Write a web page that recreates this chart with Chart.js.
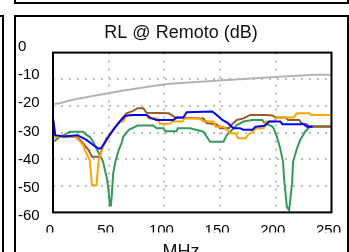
<!DOCTYPE html>
<html>
<head>
<meta charset="utf-8">
<script src="https://cdn.jsdelivr.net/npm/chart.js@4/dist/chart.umd.min.js"></script>
<style>
  html, body { margin: 0; padding: 0; width: 349px; height: 252px; overflow: hidden; background: #fff; }
  .frame { position: absolute; border: 2px solid #000; box-sizing: border-box; }
  #wrap { position: absolute; left: 16px; top: 17px; width: 328px; height: 246px; }
</style>
</head>
<body>
<!-- neighbouring panels of the dashboard -->
<div class="frame" style="left:-100px; top:15px; width:104px; height:300px;"></div>
<div class="frame" style="left:14px; top:-100px; width:335px; height:104px;"></div>
<div class="frame" style="left:14px; top:15px; width:335px; height:300px;"></div>
<div id="wrap"><canvas id="rlChart"></canvas></div>

<script>
// Valores (MHz / dB)
const freqTicks = [0, 50, 100, 150, 200, 250];
const dbTicks = [0, -10, -20, -30, -40, -50, -60];

// límite (gris)
const limitX = [1, 6, 15, 25, 38, 51, 62, 78, 94, 105, 122, 153, 195, 235, 250];
const limitY = [-19.3, -19, -18, -17.1, -16.1, -15.2, -14.3, -13.3, -12.3, -11.7, -11.2, -10.4, -9.3, -8.3, -8.3];

// par azul
const blueX = [0, 2, 10, 22, 30, 36, 41, 43, 48, 54, 60, 65, 72, 84, 87, 93, 108, 111, 117, 120, 143, 147, 152, 157, 162, 168, 171, 179, 182, 190, 194, 204, 206, 225, 228, 233];
const blueY = [-24.5, -31, -31.5, -31, -32.8, -34.7, -36, -36, -32.8, -29, -25.9, -23.7, -23.4, -23.4, -24.4, -25.3, -25.3, -24.4, -24.4, -22.4, -22.1, -23.4, -25.3, -26.5, -28.4, -28.4, -29, -29, -27.8, -27.5, -25.9, -25.9, -26.9, -26.9, -27.8, -27.8];

// par naranja
const orangeX = [0, 2, 20, 23, 27, 30, 33, 35, 39, 41, 44, 48, 53, 57, 60, 63, 66, 69, 84, 86, 94, 96, 105, 107, 116, 118, 132, 135, 144, 146, 153, 156, 159, 164, 166, 173, 175, 179, 183, 189, 191, 198, 201, 216, 219, 230, 232, 250];
const orangeY = [-26, -31.6, -31.6, -32.8, -34.7, -37.9, -40.4, -49.8, -49.8, -40.4, -36.5, -32.5, -29.7, -27.2, -25.9, -25.9, -23.6, -23.4, -23.4, -24.7, -24.7, -26.7, -26.7, -25.9, -25.9, -24.7, -24.7, -25.9, -25.9, -27.8, -27.8, -29, -30.3, -30.3, -32.2, -32.2, -30.9, -29.7, -28.4, -28.4, -25.9, -25.9, -24.4, -24.4, -22.8, -22.8, -23.4, -23.4];

// par marrón
const brownX = [0, 2, 20, 23, 27, 32, 35, 42, 44, 48, 53, 57, 62, 66, 72, 76, 81, 84, 104, 110, 135, 138, 147, 150, 158, 160, 165, 171, 177, 191, 197, 200, 209, 211, 221, 223, 228, 230, 250];
const brownY = [-25.3, -31.6, -31.6, -32.2, -34.1, -36.6, -39.1, -39.1, -36, -32.2, -29.7, -27.2, -24.7, -22.8, -21.9, -20.9, -20.9, -22.6, -22.8, -24.4, -24.7, -26.5, -27, -28.4, -28.4, -27.2, -25.3, -24.7, -23.4, -23.4, -23.6, -24.4, -24.4, -25.3, -25.3, -26.5, -27, -27.8, -27.8];

// par verde
const greenX = [0, 5, 12, 15, 27, 30, 33, 36, 39, 42, 45, 47, 48.5, 50, 51, 52, 53, 54, 56, 59, 62, 63, 68, 74, 76, 90, 93, 99, 101, 111, 112, 123, 135, 141, 153, 156, 159, 165, 171, 179, 188, 190, 197, 198, 201, 204, 206.5, 207.7, 210, 212, 214.7, 215.5, 219, 222, 226.6, 231, 250];
const greenY = [-33.5, -32, -30.5, -29.7, -29.7, -30.9, -31.6, -33.5, -36, -38.5, -41, -44.8, -47.3, -52.3, -57.4, -57.4, -52.3, -45.4, -41, -36.6, -33.5, -31.6, -29, -27.8, -27.4, -27.4, -28.4, -28.4, -29.5, -29.5, -28.4, -28.4, -29.7, -33.5, -33.5, -31, -29.7, -27.2, -25.9, -25.3, -25.3, -26.5, -27.8, -28.4, -31.6, -36, -41, -48.6, -58, -59.2, -48.6, -41, -36, -32.7, -29.5, -27.7, -27.7];

const toPoints = (xs, ys) => xs.map((x, i) => ({ x: x, y: ys[i] }));

const FONT = "'Liberation Sans', Arial, sans-serif";
const GRID_COLOR = '#bdbdbd';

// marco negro del área de trazado
const plotFrame = {
    id: 'plotFrame',
    afterDatasetsDraw(chart) {
        const { ctx, chartArea: a } = chart;
        ctx.save();
        ctx.strokeStyle = '#000';
        ctx.lineWidth = 2;
        ctx.strokeRect(a.left, a.top, a.right - a.left, a.bottom - a.top);
        ctx.restore();
    }
};

function lineSet(label, xs, ys, color) {
    return {
        label: label,
        data: toPoints(xs, ys),
        borderColor: color,
        borderWidth: 2,
        pointRadius: 0,
        tension: 0,
        fill: false
    };
}

new Chart(document.getElementById('rlChart'), {
    type: 'line',
    data: {
        datasets: [
            lineSet('Límite', limitX, limitY, '#b4b4b4'),
            lineSet('Par 1', blueX, blueY, '#0000ff'),
            lineSet('Par 2', orangeX, orangeY, '#ffa500'),
            lineSet('Par 3', brownX, brownY, '#9a5a28'),
            lineSet('Par 4', greenX, greenY, '#33995c')
        ]
    },
    options: {
        responsive: true,
        maintainAspectRatio: false,
        animation: false,
        layout: { padding: { left: 2, right: 0, top: 0, bottom: 0 } },
        plugins: {
            legend: { display: false },
            tooltip: { enabled: false },
            title: {
                display: true,
                text: 'RL @ Remoto (dB)',
                color: '#111',
                font: { family: FONT, size: 18, weight: 'normal' },
                padding: { top: 5, bottom: 9 }
            },
            subtitle: {
                display: true,
                position: 'bottom',
                text: 'MHz',
                color: '#111',
                font: { family: FONT, size: 18, weight: 'normal' },
                padding: { top: 9, bottom: 0 }
            }
        },
        scales: {
            x: {
                type: 'linear',
                min: 0,
                max: 250,
                afterBuildTicks: s => { s.ticks = freqTicks.map(v => ({ value: v })); },
                afterFit: s => { s.height = 20; },
                ticks: {
                    color: '#000',
                    font: { family: FONT, size: 15 },
                    padding: 0,
                    labelOffset: -3,
                    maxRotation: 0,
                    autoSkip: false
                },
                grid: {
                    color: c => (c.tick && (c.tick.value === 0 || c.tick.value === 250)) ? 'rgba(0,0,0,0)' : GRID_COLOR,
                    lineWidth: 2,
                    drawTicks: true,
                    tickLength: 9,
                    tickColor: 'rgba(0,0,0,0)'
                },
                border: { display: false, dash: [2, 6] }
            },
            y: {
                type: 'linear',
                position: 'left',
                min: -60,
                max: 0,
                afterBuildTicks: s => { s.ticks = dbTicks.map(v => ({ value: v })); },
                afterFit: s => { s.width = 0; },
                ticks: { display: false },
                grid: {
                    color: c => (c.tick && (c.tick.value === 0 || c.tick.value === -60)) ? 'rgba(0,0,0,0)' : GRID_COLOR,
                    lineWidth: 2,
                    drawTicks: false
                },
                border: { display: false, dash: [2, 6] }
            },
            // eje solo para las etiquetas (van algo desplazadas respecto a la rejilla)
            yl: {
                type: 'linear',
                position: 'left',
                min: -58.9,
                max: -1.9,
                afterBuildTicks: s => { s.ticks = dbTicks.map(v => ({ value: v })); },
                afterFit: s => { s.width = 35; },
                ticks: {
                    color: '#000',
                    font: { family: FONT, size: 15 },
                    crossAlign: 'far',
                    padding: 0,
                    autoSkip: false,
                    callback: v => String(v)
                },
                grid: { display: false },
                border: { display: false }
            }
        }
    },
    plugins: [plotFrame]
});
</script>
</body>
</html>
